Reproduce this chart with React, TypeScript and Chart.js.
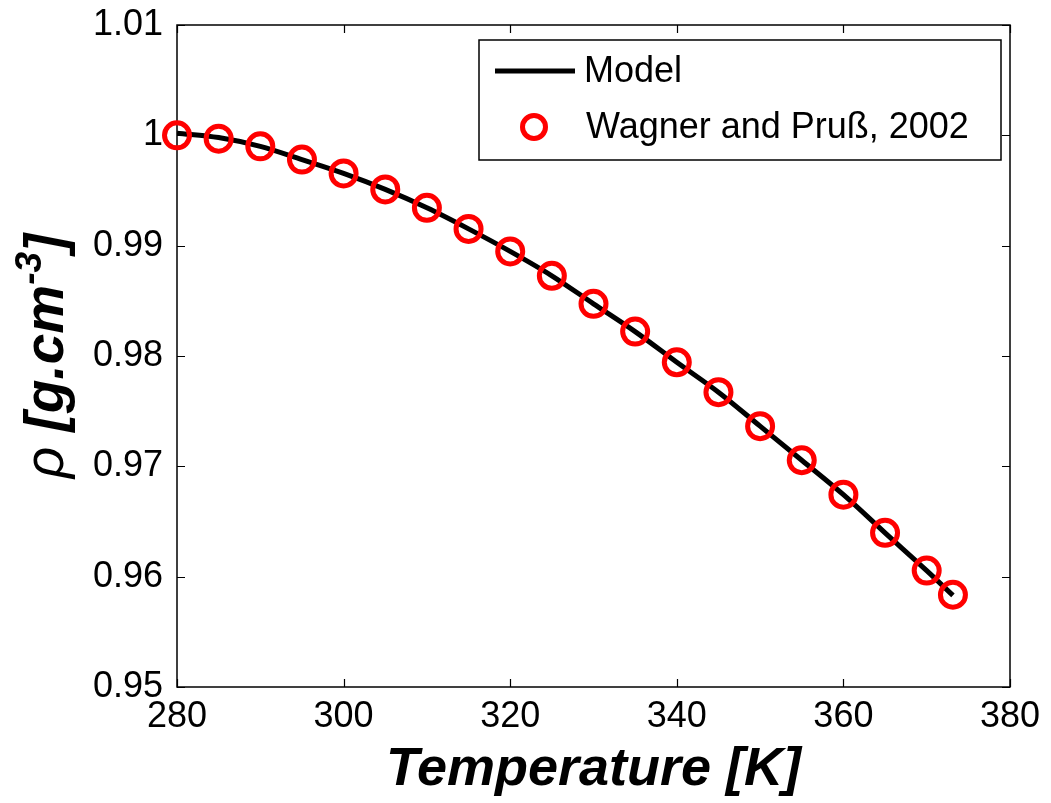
import React, { useEffect, useRef } from "react";
import { Chart, registerables } from "chart.js";

Chart.register(...registerables);

// Data
const temperatures = [280, 285, 290, 295, 300, 305, 310, 315, 320, 325, 330, 335, 340, 345, 350, 355, 360, 365, 370, 373.15];
const wagnerDensity = [1.0, 0.9997, 0.999, 0.9978, 0.99655, 0.9951, 0.99343, 0.99152, 0.98948, 0.98727, 0.98473, 0.98221, 0.97943, 0.97672, 0.97364, 0.97055, 0.96743, 0.96397, 0.96055, 0.95836];
const modelTemperatures = [280, 285, 290, 295, 300, 305, 310, 315, 320, 325, 330, 335, 340, 345, 350, 355, 360, 365, 370, 373.15];
const modelDensity = [1.0002, 0.9998, 0.999, 0.9978, 0.99655, 0.9951, 0.99343, 0.99152, 0.98948, 0.98727, 0.98473, 0.98221, 0.97943, 0.97672, 0.97364, 0.97055, 0.96743, 0.96397, 0.96055, 0.9583];
const xTicks = [280, 300, 320, 340, 360, 380];
const yTicks = [0.95, 0.96, 0.97, 0.98, 0.99, 1.0, 1.01];
const legendLabels = ["Model", "Wagner and Pruß, 2002"];
const xTitle = "Temperature [K]";
const yTitleParts = ["ρ ", "[g.cm", "-3", "]"];

const FONT = "'Liberation Sans', Arial, sans-serif";

const framePlugin = {
  id: "frame",
  beforeDatasetsDraw(chart: any) {
    const { ctx, chartArea } = chart;
    const { left, right, top, bottom } = chartArea;
    ctx.save();
    ctx.strokeStyle = "#000";
    ctx.lineWidth = 1.5;
    ctx.strokeRect(left, top, right - left, bottom - top);
    const xs = chart.scales.x;
    const ys = chart.scales.y;
    const tl = 8;
    ctx.lineWidth = 1.2;
    ctx.beginPath();
    xs.ticks.forEach((t: any) => {
      const px = Math.round(xs.getPixelForValue(t.value)) + 0.5;
      ctx.moveTo(px, bottom);
      ctx.lineTo(px, bottom - tl);
      ctx.moveTo(px, top);
      ctx.lineTo(px, top + tl);
    });
    ys.ticks.forEach((t: any) => {
      const py = Math.round(ys.getPixelForValue(t.value)) + 0.5;
      ctx.moveTo(left, py);
      ctx.lineTo(left + tl, py);
      ctx.moveTo(right, py);
      ctx.lineTo(right - tl, py);
    });
    ctx.stroke();
    ctx.restore();
  },
  afterDraw(chart: any) {
    const { ctx, chartArea } = chart;
    ctx.save();
    ctx.fillStyle = "#000";
    // X title
    ctx.font = `italic bold 54px ${FONT}`;
    ctx.textAlign = "center";
    ctx.textBaseline = "alphabetic";
    ctx.fillText(xTitle, (chartArea.left + chartArea.right) / 2, 785);

    // Y title (rotated)
    const cy = (chartArea.top + chartArea.bottom) / 2;
    const big = 55;
    const small = 37;
    const fonts = [
      `italic ${big}px ${FONT}`,
      `italic bold ${big}px ${FONT}`,
      `italic bold ${small}px ${FONT}`,
      `italic bold ${big}px ${FONT}`,
    ];
    const widths = yTitleParts.map((p, i) => {
      ctx.font = fonts[i];
      return ctx.measureText(p).width;
    });
    const total = widths.reduce((a, b) => a + b, 0);
    ctx.translate(63, cy);
    ctx.rotate(-Math.PI / 2);
    ctx.textAlign = "left";
    let xPos = -total / 2;
    yTitleParts.forEach((p, i) => {
      ctx.font = fonts[i];
      const dy = i === 2 ? -22 : 0;
      ctx.fillText(p, xPos, dy);
      xPos += widths[i];
    });
    ctx.restore();

    // Legend
    ctx.save();
    const bx = 479, by = 40, bw = 522, bh = 120;
    ctx.fillStyle = "#fff";
    ctx.fillRect(bx, by, bw, bh);
    ctx.strokeStyle = "#000";
    ctx.lineWidth = 1.5;
    ctx.strokeRect(bx, by, bw, bh);
    ctx.strokeStyle = "#000";
    ctx.lineWidth = 5;
    ctx.beginPath();
    ctx.moveTo(495, 71);
    ctx.lineTo(575, 71);
    ctx.stroke();
    ctx.strokeStyle = "#ff0000";
    ctx.lineWidth = 5;
    ctx.beginPath();
    ctx.arc(534, 127, 11.5, 0, Math.PI * 2);
    ctx.stroke();
    ctx.fillStyle = "#000";
    ctx.font = `36px ${FONT}`;
    ctx.textAlign = "left";
    ctx.textBaseline = "middle";
    ctx.fillText(legendLabels[0], 584, 72);
    ctx.fillText(legendLabels[1], 586, 128);
    ctx.restore();
  },
};

export default function App() {
  const canvasRef = useRef<HTMLCanvasElement | null>(null);

  useEffect(() => {
    document.body.style.margin = "0";
    const canvas = canvasRef.current;
    if (!canvas) return;
    const chart = new Chart(canvas, {
      type: "line",
      data: {
        datasets: [
          {
            type: "scatter",
            label: legendLabels[1],
            data: temperatures.map((t, i) => ({ x: t, y: wagnerDensity[i] })),
            showLine: false,
            pointStyle: "circle",
            pointRadius: 12.5,
            pointBorderWidth: 5,
            pointBorderColor: "#ff0000",
            pointBackgroundColor: "rgba(0,0,0,0)",
            borderColor: "#ff0000",
            backgroundColor: "rgba(0,0,0,0)",
            clip: false as any,
            order: 1,
          },
          {
            type: "line",
            label: legendLabels[0],
            data: modelTemperatures.map((t, i) => ({ x: t, y: modelDensity[i] })),
            borderColor: "#000",
            borderWidth: 5,
            pointRadius: 0,
            fill: false,
            cubicInterpolationMode: "monotone",
            order: 2,
          },
        ],
      },
      options: {
        animation: false,
        responsive: true,
        maintainAspectRatio: false,
        layout: { padding: { left: 0, right: 41, top: 25, bottom: 0 } },
        plugins: {
          legend: { display: false },
          tooltip: { enabled: false },
          title: { display: false },
        },
        scales: {
          x: {
            type: "linear",
            min: 280,
            max: 380,
            afterBuildTicks: (scale: any) => {
              scale.ticks = xTicks.map((v) => ({ value: v }));
            },
            afterFit: (scale: any) => {
              scale.height = 116;
              scale.paddingLeft = 0;
              scale.paddingRight = 0;
            },
            grid: { display: false, drawTicks: false },
            border: { display: false },
            ticks: {
              padding: 8,
              color: "#000",
              font: { family: FONT, size: 36 },
              maxRotation: 0,
              autoSkip: false,
              callback: (v: any) => String(v),
            },
          },
          y: {
            type: "linear",
            min: 0.95,
            max: 1.01,
            afterBuildTicks: (scale: any) => {
              scale.ticks = yTicks.map((v) => ({ value: v }));
            },
            afterFit: (scale: any) => {
              scale.width = 177;
              scale.paddingTop = 0;
              scale.paddingBottom = 0;
            },
            grid: { display: false, drawTicks: false },
            border: { display: false },
            ticks: {
              padding: 14,
              color: "#000",
              font: { family: FONT, size: 36 },
              autoSkip: false,
              callback: (v: any) => String(Number(Number(v).toFixed(2))),
            },
          },
        },
      },
      plugins: [framePlugin],
    });
    return () => chart.destroy();
  }, []);

  return (
    <div style={{ position: "relative", width: 1051, height: 803 }}>
      <canvas ref={canvasRef} />
    </div>
  );
}
